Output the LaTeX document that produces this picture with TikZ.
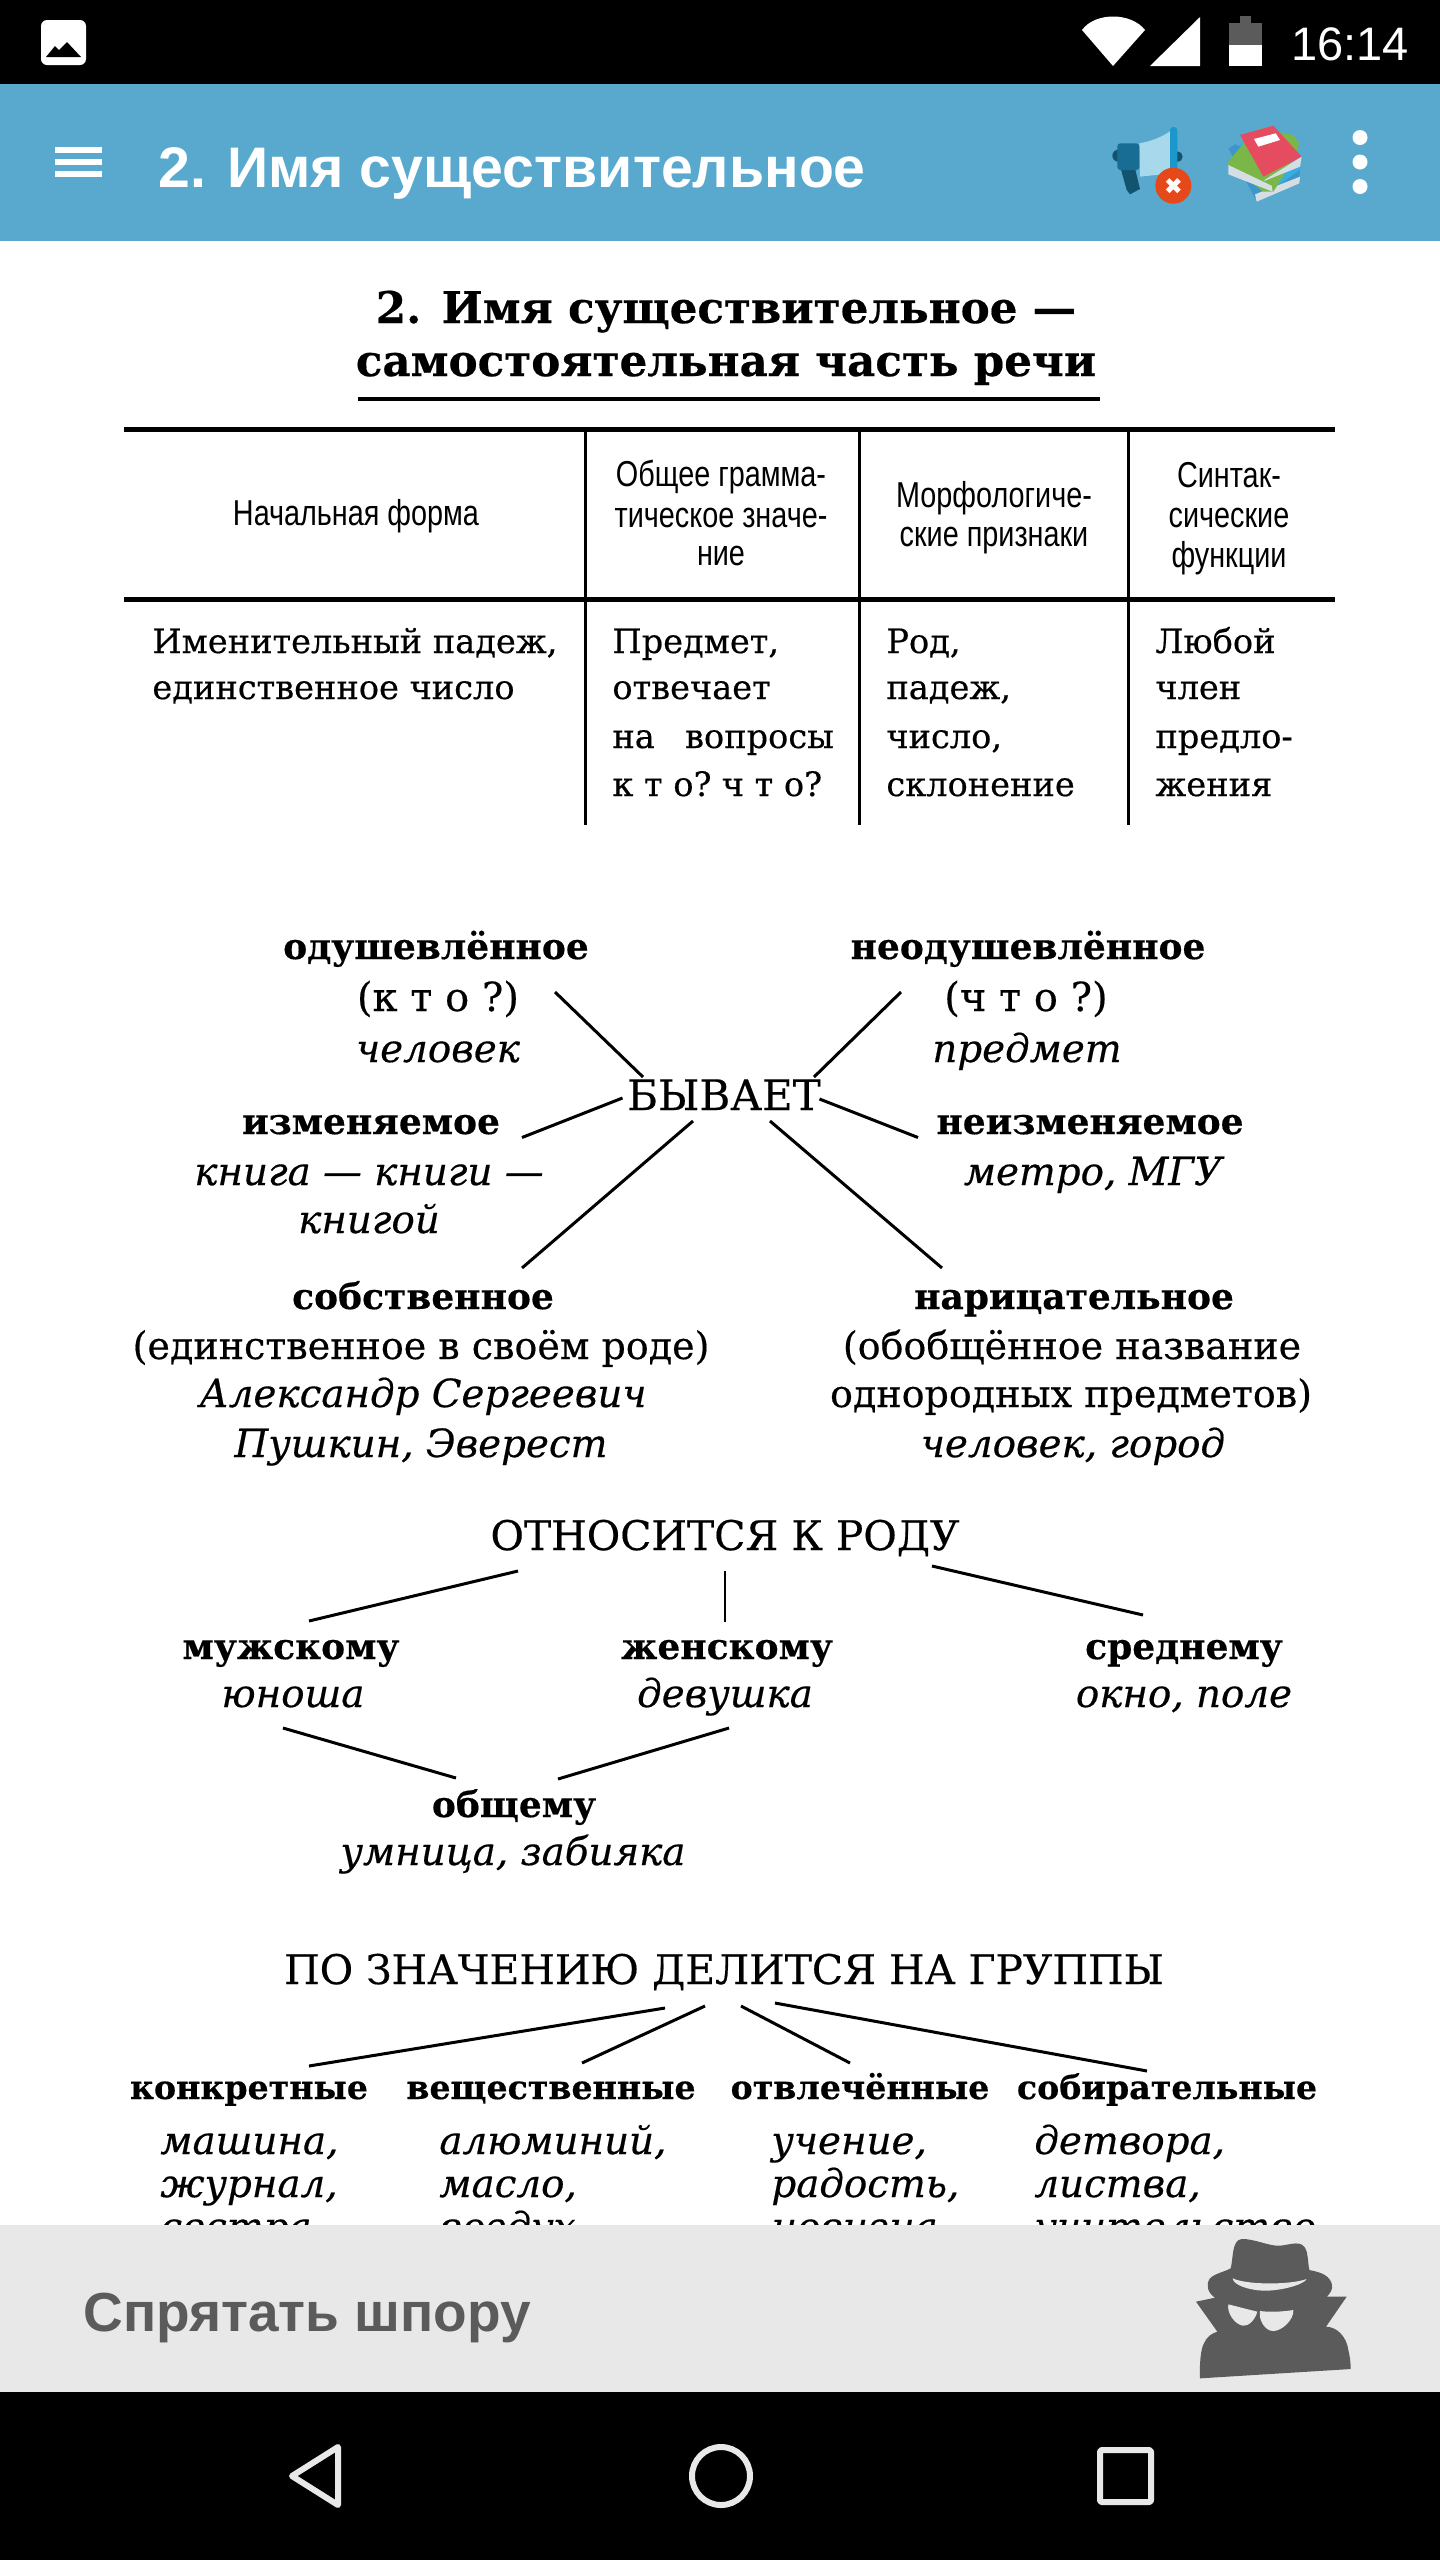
\documentclass[tikz,border=0pt]{standalone}
\usepackage{fontspec}
\setmainfont{DejaVu Serif}
\newfontfamily\srf[FakeBold=0.4]{DejaVu Serif}
\newfontfamily\hdr[FakeStretch=0.8]{Liberation Sans}
\newfontfamily\ui{Liberation Sans}
\definecolor{appblue}{HTML}{59A9CF}
\definecolor{greybar}{HTML}{E8E8E8}
\definecolor{spy}{HTML}{5B5B5B}
\definecolor{megdark}{HTML}{12536F}
\definecolor{megmid}{HTML}{176D93}
\definecolor{meglight}{HTML}{A8D8EC}
\definecolor{megbar}{HTML}{1C97CC}
\definecolor{xred}{HTML}{E5491A}
\definecolor{bookred}{HTML}{E64C5F}
\definecolor{bookgreen}{HTML}{7AB648}
\definecolor{bookblue}{HTML}{3E95CC}
\definecolor{booksky}{HTML}{37AEE2}
\definecolor{pages}{HTML}{D5DEE3}
\tikzset{
  tbody/.style={anchor=base west,inner sep=0pt,font=\srf\fontsize{16.8}{20}\selectfont},
  reg/.style={anchor=base,inner sep=0pt,font=\srf\fontsize{19}{22}\selectfont},
  bld/.style={anchor=base,inner sep=0pt,font=\srf\bfseries\fontsize{18}{22}\selectfont},
  bldg/.style={anchor=base,inner sep=0pt,font=\srf\bfseries\fontsize{16.6}{20}\selectfont},
  ita/.style={anchor=base,inner sep=0pt,font=\srf\itshape\fontsize{19.4}{23}\selectfont},
  ital/.style={ita,anchor=base west},
  capsl/.style={anchor=base,inner sep=0pt,font=\srf\fontsize{20.4}{24}\selectfont},
  headg/.style={anchor=base,inner sep=0pt,font=\srf\bfseries\fontsize{21.8}{26}\selectfont},
  thd/.style={anchor=base,inner sep=0pt,font=\hdr\fontsize{18}{21}\selectfont},
  conn/.style={line width=1.5pt,black},
  hrule/.style={line width=2.5pt,black},
  vrule/.style={line width=1.5pt,black},
  navicon/.style={line width=3pt,greybar,line join=round},
}
\begin{document}
\begin{tikzpicture}[x=0.5pt,y=-0.5pt]
\useasboundingbox (0,0) rectangle (1440,2560);
\fill[white] (0,0) rectangle (1440,2560);
%--- heading
\node[headg] (h1) at (726,323) {2. Имя существительное —};
\node[headg] (h2) at (726,376) {самостоятельная часть речи};
\coordinate (u1) at (358,399); \coordinate (u2) at (1100,399);
\draw[hrule,line width=2pt] (u1) -- (u2);
%--- table
\coordinate (t1l) at (124,429); \coordinate (t1r) at (1335,429);
\coordinate (t2l) at (124,599); \coordinate (t2r) at (1335,599);
\coordinate (v1a) at (585.5,429); \coordinate (v1b) at (585.5,825);
\coordinate (v2a) at (859,429); \coordinate (v2b) at (859,825);
\coordinate (v3a) at (1128,429); \coordinate (v3b) at (1128,825);
\draw[hrule] (t1l) -- (t1r);
\draw[hrule] (t2l) -- (t2r);
\draw[vrule] (v1a) -- (v1b);
\draw[vrule] (v2a) -- (v2b);
\draw[vrule] (v3a) -- (v3b);
\node[thd] (th1) at (356,525) {Начальная форма};
\node[thd] (th2a) at (721,486) {Общее грамма-};
\node[thd] (th2b) at (721,527) {тическое значе-};
\node[thd] (th2c) at (721,565) {ние};
\node[thd] (th3a) at (994,507) {Морфологиче-};
\node[thd] (th3b) at (994,546) {ские признаки};
\node[thd] (th4a) at (1229,487) {Синтак-};
\node[thd] (th4b) at (1229,527) {сические};
\node[thd] (th4c) at (1229,567) {функции};
\node[tbody] (b1a) at (152,653) {Именительный падеж,};
\node[tbody] (b1b) at (152,699) {единственное число};
\node[tbody] (b2a) at (612,653) {Предмет,};
\node[tbody] (b2b) at (612,699) {отвечает};
\node[tbody] (b2c) at (612,748) {на\hspace{0.9em}вопросы};
\node[tbody] (b2d) at (612,796) {к т о?\hspace{-0.12em} ч т о?};
\node[tbody] (b3a) at (886,653) {Род,};
\node[tbody] (b3b) at (886,699) {падеж,};
\node[tbody] (b3c) at (886,748) {число,};
\node[tbody] (b3d) at (886,796) {склонение};
\node[tbody] (b4a) at (1155,653) {Любой};
\node[tbody] (b4b) at (1155,699) {член};
\node[tbody] (b4c) at (1155,748) {предло-};
\node[tbody] (b4d) at (1155,796) {жения};
%--- БЫВАЕТ
\node[capsl,font=\srf\fontsize{21}{24}\selectfont] (byv) at (724,1110) {БЫВАЕТ};
\node[bld] (od1) at (436,959) {одушевлённое};
\node[reg,font=\srf\fontsize{20}{24}\selectfont] (od2) at (438,1011) {(к т о ?)};
\node[ita] (od3) at (438,1062) {человек};
\node[bld] (ne1) at (1028,959) {неодушевлённое};
\node[reg,font=\srf\fontsize{20}{24}\selectfont] (ne2) at (1026,1011) {(ч т о ?)};
\node[ita] (ne3) at (1027,1062) {предмет};
\node[bld] (iz1) at (371,1134) {изменяемое};
\node[ita] (iz2) at (369,1185) {книга — книги —};
\node[ita] (iz3) at (369,1233) {книгой};
\node[bld] (ni1) at (1090,1134) {неизменяемое};
\node[ita] (ni2) at (1093,1185) {метро, МГУ};
\node[bld] (so1) at (423,1309) {собственное};
\node[reg] (so2) at (421,1359) {(единственное в своём роде)};
\node[ita] (so3) at (423,1407) {Александр Сергеевич};
\node[ita] (so4) at (421,1457) {Пушкин, Эверест};
\node[bld] (na1) at (1074,1309) {нарицательное};
\node[reg] (na2) at (1072,1359) {(обобщённое название};
\node[reg] (na3) at (1071,1407) {однородных предметов)};
\node[ita] (na4) at (1073,1457) {человек, город};
\coordinate (a1) at (555,992); \coordinate (a2) at (643,1077);
\coordinate (b1) at (901,992); \coordinate (b2) at (814,1077);
\coordinate (c1) at (622.5,1098); \coordinate (c2) at (522,1137.5);
\coordinate (d1) at (819.5,1099); \coordinate (d2) at (918,1137.5);
\coordinate (e1) at (693,1121); \coordinate (e2) at (522,1268);
\coordinate (f1) at (770,1121); \coordinate (f2) at (942,1268);
\draw[conn] (a1) -- (a2);
\draw[conn] (b1) -- (b2);
\draw[conn] (c1) -- (c2);
\draw[conn] (d1) -- (d2);
\draw[conn] (e1) -- (e2);
\draw[conn] (f1) -- (f2);
%--- род
\node[capsl] (rod) at (725,1550) {ОТНОСИТСЯ К РОДУ};
\node[bld] (m1) at (291,1659) {мужскому};
\node[ita] (m2) at (293,1707) {юноша};
\node[bld] (g1) at (727,1659) {женскому};
\node[ita] (g2) at (725,1707) {девушка};
\node[bld] (s1) at (1184,1659) {среднему};
\node[ita] (s2) at (1184,1707) {окно, поле};
\node[bld] (o1) at (514,1817) {общему};
\node[ita] (o2) at (513,1865) {умница, забияка};
\coordinate (r1a) at (518,1571); \coordinate (r1b) at (309,1621);
\coordinate (r2a) at (725,1571); \coordinate (r2b) at (725,1622);
\coordinate (r3a) at (932,1566); \coordinate (r3b) at (1143,1615);
\coordinate (r4a) at (283,1728); \coordinate (r4b) at (456,1778);
\coordinate (r5a) at (729,1728); \coordinate (r5b) at (558,1779);
\draw[conn] (r1a) -- (r1b);
\draw[conn,line width=1pt] (r2a) -- (r2b);
\draw[conn] (r3a) -- (r3b);
\draw[conn] (r4a) -- (r4b);
\draw[conn] (r5a) -- (r5b);
%--- группы
\node[capsl] (grp) at (724,1984) {ПО ЗНАЧЕНИЮ ДЕЛИТСЯ НА ГРУППЫ};
\node[bldg] (k0) at (249,2099) {конкретные};
\node[bldg] (v0) at (551,2099) {вещественные};
\node[bldg] (t0) at (860,2099) {отвлечённые};
\node[bldg] (c0) at (1167,2099) {собирательные};
\node[ital] (k1) at (160,2154) {машина,};
\node[ital] (k2) at (160,2197) {журнал,};
\node[ital] (k3) at (160,2240) {сестра};
\node[ital] (v1) at (439,2154) {алюминий,};
\node[ital] (v2) at (439,2197) {масло,};
\node[ital] (v3) at (439,2240) {воздух};
\node[ital] (t1) at (771,2154) {учение,};
\node[ital] (t2) at (771,2197) {радость,};
\node[ital] (t3) at (771,2240) {новизна};
\node[ital] (c1t) at (1034,2154) {детвора,};
\node[ital] (c2t) at (1034,2197) {листва,};
\node[ital] (c3t) at (1034,2240) {учительство};
\coordinate (q1a) at (665,2008); \coordinate (q1b) at (309,2066);
\coordinate (q2a) at (705,2006); \coordinate (q2b) at (582,2063);
\coordinate (q3a) at (741,2006); \coordinate (q3b) at (850,2063);
\coordinate (q4a) at (775,2003); \coordinate (q4b) at (1147,2071);
\draw[conn] (q1a) -- (q1b);
\draw[conn] (q2a) -- (q2b);
\draw[conn] (q3a) -- (q3b);
\draw[conn] (q4a) -- (q4b);
%--- status bar
\fill[black] (0,0) rectangle (1440,84);
\fill[white,rounded corners=3pt] (41,20) rectangle (86,65);
\fill[black] (46,57) -- (55,46) -- (59,50) -- (67,42) -- (81,57) -- cycle;
\fill[white] (1113,66) -- (1082,30) .. controls (1095,12) and (1131,12) .. (1145,30) -- cycle;
\fill[white] (1150,66) -- (1200,17) -- (1200,66) -- cycle;
\fill[spy] (1240,16) rectangle (1251,23);
\fill[spy] (1229,23) rectangle (1262,45);
\fill[white] (1229,45) rectangle (1262,66);
\node[anchor=base,inner sep=0pt,text=white,font=\ui\fontsize{23.5}{28}\selectfont] (clock) at (1350,60) {16:14};
%--- app bar
\fill[appblue] (0,84) rectangle (1440,241);
\fill[white] (55,147) rectangle (102,153);
\fill[white] (55,159) rectangle (102,165);
\fill[white] (55,171) rectangle (102,177);
\node[anchor=base west,inner sep=0pt,text=white,font=\ui\bfseries\fontsize{28.6}{34}\selectfont] (title) at (158,187) {2. Имя существительное};
\begin{scope}[shift={(1100,115)},x=0.16667pt,y=-0.16667pt]
  \fill[megdark] (55,122) circle (18);
  \fill[megdark] (232,125) circle (16);
  \fill[meglight] (118,85) .. controls (150,80) and (190,65) .. (212,47) -- (212,175) -- (120,185) -- cycle;
  \fill[megdark] (62,160) -- (105,160) -- (120,222) -- (90,238) -- (80,225) -- cycle;
  \fill[megmid,rounded corners=1.5pt] (52,85) rectangle (118,165);
  \fill[megbar,rounded corners=1.5pt] (210,36) rectangle (232,170);
  \fill[xred] (220,212) circle (54);
  \draw[white,line width=2.5pt] (203,195) -- (237,229);
  \draw[white,line width=2.5pt] (237,195) -- (203,229);
  % books
  \fill[bookblue] (385,100) -- (405,88) -- (600,165) -- (598,195) -- (470,258) -- cycle;
  \fill[booksky] (420,85) -- (605,160) -- (530,215) -- (440,160) -- cycle;
  \fill[pages] (465,238) -- (600,185) -- (598,205) -- (470,260) -- cycle;
  \fill[bookgreen] (380,145) -- (440,75) -- (480,40) -- (580,60) -- (597,85) -- (590,120) -- (520,230) -- (490,230) -- cycle;
  \fill[pages] (385,150) -- (515,212) -- (518,230) -- (385,178) -- cycle;
  \fill[bookred] (420,60) -- (520,32) -- (605,125) -- (490,185) -- (482,170) -- cycle;
  \fill[pages] (490,197) -- (605,125) -- (600,155) -- (495,197) -- cycle;
  \fill[white] (462,72) -- (527,55) -- (540,75) -- (475,95) -- cycle;
\end{scope}
\fill[white] (1360,137.5) circle (7.5);
\fill[white] (1360,162) circle (7.5);
\fill[white] (1360,186.5) circle (7.5);
%--- bottom bar
\fill[greybar] (0,2225) rectangle (1440,2392);
\node[anchor=base west,inner sep=0pt,text=spy,font=\ui\bfseries\fontsize{27.5}{33}\selectfont] (hide) at (83,2331) {Спрятать шпору};
\begin{scope}[shift={(1180,2225)},x=0.16667pt,y=-0.16667pt]
  \fill[spy] (60,460) .. controls (58,420) and (62,370) .. (72,355) .. controls (80,335) and (95,325) .. (112,320) -- (48,230) -- (105,218) .. controls (85,205) and (75,180) .. (90,160) .. controls (105,145) and (135,140) .. (152,130) .. controls (160,100) and (155,45) .. (185,42) .. controls (220,40) and (270,65) .. (300,62) .. controls (330,60) and (370,40) .. (380,80) .. controls (385,100) and (385,125) .. (388,135) .. controls (410,140) and (445,145) .. (455,175) .. controls (460,195) and (450,205) .. (440,215) -- (500,215) -- (438,305) .. controls (470,305) and (500,335) .. (505,375) .. controls (510,395) and (512,415) .. (512,432) -- cycle;
  \fill[greybar] (145,238) -- (232,260) .. controls (225,285) and (205,305) .. (188,302) .. controls (165,298) and (140,265) .. (145,238) -- cycle;
  \fill[greybar] (240,258) .. controls (270,262) and (310,260) .. (340,255) .. controls (342,285) and (305,318) .. (280,318) .. controls (255,318) and (235,285) .. (240,258) -- cycle;
  \fill[greybar] (158,160) .. controls (200,180) and (330,180) .. (380,162) .. controls (370,180) and (300,198) .. (250,197) .. controls (205,195) and (160,180) .. (158,160) -- cycle;
\end{scope}
%--- nav bar
\fill[black] (0,2392) rectangle (1440,2560);
\draw[navicon] (338,2447) -- (292,2476) -- (338,2505) -- cycle;
\draw[navicon] (721,2476) circle (29);
\draw[navicon,rounded corners=1pt] (1100,2450) rectangle (1151,2502);
\end{tikzpicture}
\end{document}
